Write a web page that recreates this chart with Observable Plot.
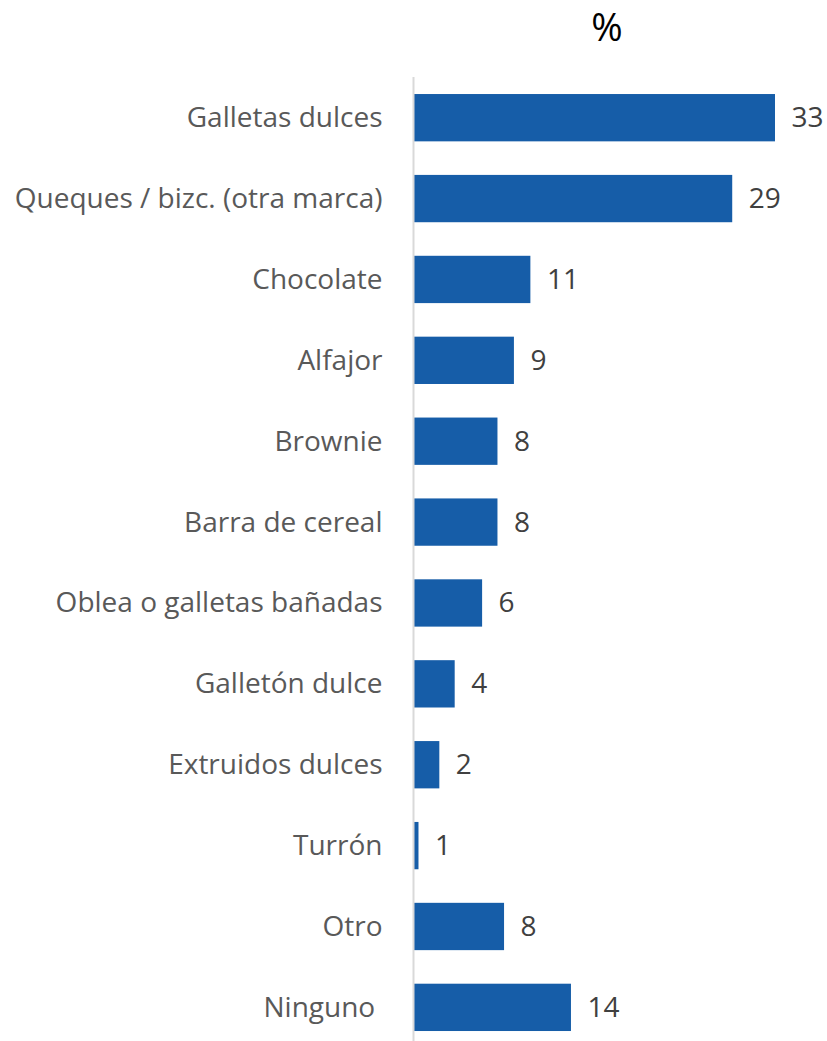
<!DOCTYPE html>
<html>
<head>
<meta charset="utf-8">
<script src="https://cdn.jsdelivr.net/npm/d3@7"></script>
<script src="https://cdn.jsdelivr.net/npm/@observablehq/plot@0.6"></script>
<style>
  html, body { margin: 0; padding: 0; background: #fff; }
  #wrap { position: relative; width: 827px; height: 1041px; overflow: hidden; }
  #wrap svg { position: absolute; left: 0; top: 0; }
  #title { position: absolute; left: 607px; top: 0px; transform: translateX(-50%); z-index: 2;
           font-family: "Open Sans", sans-serif; font-size: 38px; color: #000; line-height: 52px; }
</style>
</head>
<body>
<div id="wrap"></div>
<script>
const categories = [
  "Galletas dulces",
  "Queques / bizc. (otra marca)",
  "Chocolate",
  "Alfajor",
  "Brownie",
  "Barra de cereal",
  "Oblea o galletas bañadas",
  "Galletón dulce",
  "Extruidos dulces",
  "Turrón",
  "Otro",
  "Ninguno\u00A0"
];
const values = [33.0, 29.1, 10.7, 9.2, 7.7, 7.7, 6.3, 3.8, 2.4, 0.5, 8.3, 14.4];

const data = categories.map((c, i) => ({category: c, value: values[i]}));

const chart = Plot.plot({
  width: 827,
  height: 1041,
  marginLeft: 413,
  marginRight: 52,
  marginTop: 77,
  marginBottom: 0,
  style: {fontFamily: "'Open Sans', sans-serif", background: "#fff"},
  x: {domain: [0, 33], axis: null},
  y: {domain: categories, range: [77.25, 1047.8], paddingInner: 0.415, paddingOuter: 0.2075, round: false, label: null},
  marks: [
    Plot.barX(data, {x: "value", y: "category", fill: "#165DA8"}),
    Plot.ruleX([0], {stroke: "#d9d9d9", strokeWidth: 2}),
    Plot.axisY({tickSize: 0, tickPadding: 31, fontSize: 28, fill: "#595959", label: null}),
    Plot.text(data, {x: "value", y: "category", text: d => String(Math.round(d.value)),
      textAnchor: "start", dx: 16, fontSize: 28, fill: "#404040"})
  ]
});
const wrap = document.getElementById("wrap");
wrap.appendChild(chart);
const title = document.createElement("div");
title.id = "title";
title.textContent = "%";
wrap.appendChild(title);
</script>
</body>
</html>
